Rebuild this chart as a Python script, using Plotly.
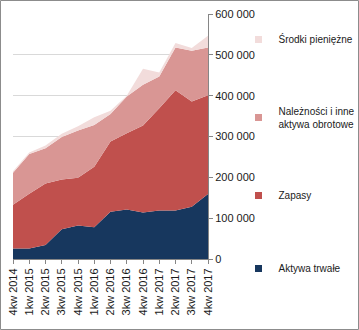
import plotly.graph_objects as go

quarters = ["4kw 2014", "1kw 2015", "2kw 2015", "3kw 2015", "4kw 2015",
            "1kw 2016", "2kw 2016", "3kw 2016", "4kw 2016",
            "1kw 2017", "2kw 2017", "3kw 2017", "4kw 2017"]

aktywa_trwale = [26000, 26000, 34000, 73000, 82000, 78000, 116000, 121000, 114000, 119000, 119000, 128000, 159000]
zapasy = [107000, 134000, 151000, 122000, 117000, 148000, 172000, 187000, 213000, 250000, 294000, 258000, 242000]
naleznosci = [78000, 97000, 86000, 104000, 116000, 102000, 67000, 90000, 100000, 78000, 105000, 124000, 117000]
srodki = [4000, 4000, 7000, 8000, 10000, 19000, 8000, 2000, 39000, 10000, 11000, 7000, 29000]

names = ["Aktywa trwałe", "Zapasy", "Należności i inne<br>aktywa obrotowe", "Środki pieniężne"]
colors = ["#17375E", "#C0504D", "#D99694", "#F2DCDB"]
series = [aktywa_trwale, zapasy, naleznosci, srodki]

font_family = "Liberation Sans, Arial, sans-serif"
text_color = "#1a1a1a"
axis_color = "#868686"

fig = go.Figure()
for name, col, vals in zip(names, colors, series):
    fig.add_trace(go.Scatter(
        x=quarters, y=vals, stackgroup="one", mode="none",
        fillcolor=col, name=name, showlegend=False, hoverinfo="skip",
    ))

# legend entries (top to bottom)
for i, (name, col) in enumerate(reversed(list(zip(names, colors)))):
    fig.add_trace(go.Scatter(
        x=[None], y=[None], mode="markers",
        marker=dict(symbol="square", size=7, color=col),
        name=name, legendgroup=f"g{i}", showlegend=True,
    ))

W, H = 359, 330
ml, mr, mt, mb = 13, 151, 14, 71
pw, ph = W - ml - mr, H - mt - mb

fig.update_layout(
    width=W, height=H, autosize=False,
    margin=dict(l=ml, r=mr, t=mt, b=mb, pad=0, autoexpand=False),
    paper_bgcolor="white", plot_bgcolor="white",
    separators=", ",
    font=dict(family=font_family, size=11, color=text_color),
    showlegend=True,
    legend=dict(
        xref="container", yref="container",
        x=238.5 / W, xanchor="left",
        y=1 - 25 / H, yanchor="top",
        maxheight=320,
        traceorder="grouped", tracegroupgap=54,
        font=dict(size=10, family=font_family, color=text_color),
        itemwidth=30, bgcolor="rgba(0,0,0,0)",
    ),
    xaxis=dict(
        type="category", categoryorder="array", categoryarray=quarters,
        range=[0, len(quarters) - 1],
        showline=True, linecolor=axis_color, linewidth=1,
        ticks="outside", ticklen=4, tickcolor=axis_color,
        tickangle=-90, showgrid=False, zeroline=False,
        tickfont=dict(size=11, color=text_color),
    ),
    yaxis=dict(
        side="right", range=[0, 600000], tick0=0, dtick=100000,
        tickformat=",d",
        showline=True, linecolor=axis_color, linewidth=1,
        ticks="outside", ticklen=4, tickcolor=axis_color,
        showgrid=True, gridcolor="#D9D9D9", gridwidth=1, zeroline=False,
        tickfont=dict(size=11, color=text_color),
    ),
    shapes=[dict(
        type="rect", xref="paper", yref="paper",
        x0=(0.5 - ml) / pw, x1=(W - 0.5 - ml) / pw,
        y0=(H - mb - (H - 0.5)) / ph, y1=(H - mb - 0.5) / ph,
        line=dict(color="#8C8C8C", width=1), fillcolor="rgba(0,0,0,0)",
    )],
)

fig.write_html("out.html")
